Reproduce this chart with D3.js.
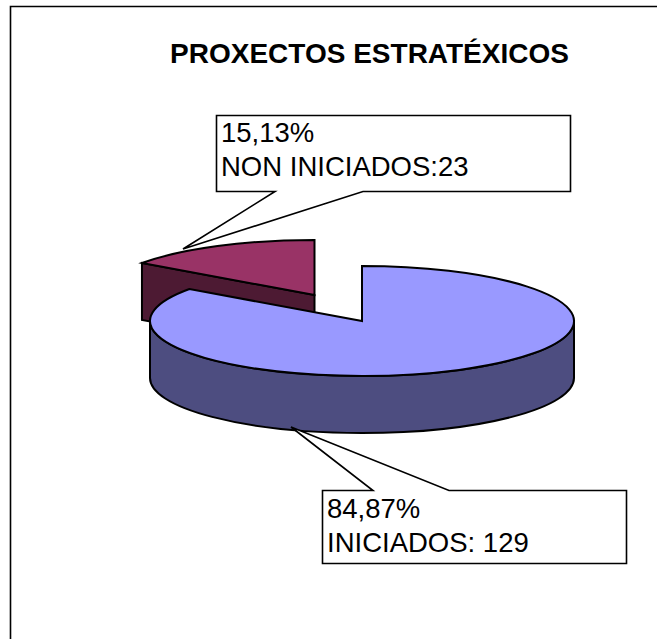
<!DOCTYPE html>
<html><head><meta charset="utf-8">
<script src="https://cdnjs.cloudflare.com/ajax/libs/d3/7.8.5/d3.min.js"></script>
<style>html,body{margin:0;padding:0;background:#fff;overflow:hidden}svg{display:block}text{font-family:"Liberation Sans",Arial,sans-serif;fill:#000}</style>
</head><body><div id="chart"></div>
<script>
const categories = ["INICIADOS", "NON INICIADOS"];
const values = [129, 23];
const percentLabels = ["84,87%", "15,13%"];
const valueLabels = ["INICIADOS: 129", "NON INICIADOS:23"];
const colors = ["#9999ff", "#993366"];
const sideColors = ["#4d4d80", "#4d1a33"];
const chartTitle = "PROXECTOS ESTRATÉXICOS";

const W = 657, H = 639;
const svg = d3.select("#chart").append("svg").attr("width", W).attr("height", H);

// the frame is cropped: only its top and left edges are in the picture
svg.append("path").attr("d", `M10.5,${H}L10.5,6.5L${W},6.5`)
  .attr("fill", "none").attr("stroke", "#000").attr("stroke-width", 1.6);

svg.append("text").attr("x", 369.5).attr("y", 63).attr("text-anchor", "middle")
  .attr("font-size", 28).attr("font-weight", "bold").text(chartTitle);

const rx = 212, ry = 55, depth = 57;
const cx = 362, cy = 321;
const explode = [[0, 0], [-47.5, -26]];

const pie = d3.pie().sort(null).value(d => d);
const arcs = pie(values);
// unit-circle scales mapped onto the tilted ellipse
const sx = d3.scaleLinear().domain([-1, 1]).range([-rx, rx]);
const sy = d3.scaleLinear().domain([-1, 1]).range([-ry, ry]);
const pt = (a, ox, oy, d = 0) => [cx + ox + sx(Math.sin(a)), cy + oy + sy(-Math.cos(a)) + d];

function topPath(a, ox, oy) {
  const c = [cx + ox, cy + oy];
  const s = pt(a.startAngle, ox, oy), e = pt(a.endAngle, ox, oy);
  const large = a.endAngle - a.startAngle > Math.PI ? 1 : 0;
  return `M${c}L${s}A${rx},${ry} 0 ${large} 1 ${e}Z`;
}

const applyStroke = s => s.attr("stroke", "#000").attr("stroke-width", 2).attr("stroke-linejoin", "miter");

// exploded wedge: cut wall, then top
const red = arcs[1];
const [rox, roy] = explode[1];
const c2 = [cx + rox, cy + roy];
const p2 = pt(red.startAngle, rox, roy);
applyStroke(svg.append("path")
  .attr("d", `M${c2}L${p2}L${[p2[0], p2[1] + depth]}L${[c2[0], c2[1] + depth]}Z`)
  .attr("fill", sideColors[1]));
applyStroke(svg.append("path").attr("d", topPath(red, rox, roy)).attr("fill", colors[1]));

// main wedge: front wall, then top
const blue = arcs[0];
applyStroke(svg.append("path")
  .attr("d", `M${cx + rx},${cy}A${rx},${ry} 0 0 1 ${cx - rx},${cy}L${cx - rx},${cy + depth}A${rx},${ry} 0 0 0 ${cx + rx},${cy + depth}Z`)
  .attr("fill", sideColors[0]));
applyStroke(svg.append("path").attr("d", topPath(blue, 0, 0)).attr("fill", colors[0]));

// callouts
function callout(b, tail, lines) {
  const [x0, y0, x1, y1] = b;
  const d = tail.side === "bottom"
    ? `M${x0},${y0}L${x1},${y0}L${x1},${y1}L${tail.b},${y1}L${tail.px},${tail.py}L${tail.a},${y1}L${x0},${y1}Z`
    : `M${x0},${y0}L${tail.a},${y0}L${tail.px},${tail.py}L${tail.b},${y0}L${x1},${y0}L${x1},${y1}L${x0},${y1}Z`;
  svg.append("path").attr("d", d).attr("fill", "#fff").attr("stroke", "#000").attr("stroke-width", 1.6);
  lines.forEach(l => svg.append("text").attr("x", x0 + 4.5).attr("y", l.y).attr("font-size", 27.5).text(l.t));
}
callout([216.5, 115.5, 570.5, 191.5], {side: "bottom", a: 275, b: 363, px: 183, py: 249},
  [{t: percentLabels[1], y: 142}, {t: valueLabels[1], y: 176}]);
callout([322.5, 490.5, 626.5, 563.5], {side: "top", a: 373, b: 449, px: 291, py: 427},
  [{t: percentLabels[0], y: 518}, {t: valueLabels[0], y: 552}]);
</script></body></html>
